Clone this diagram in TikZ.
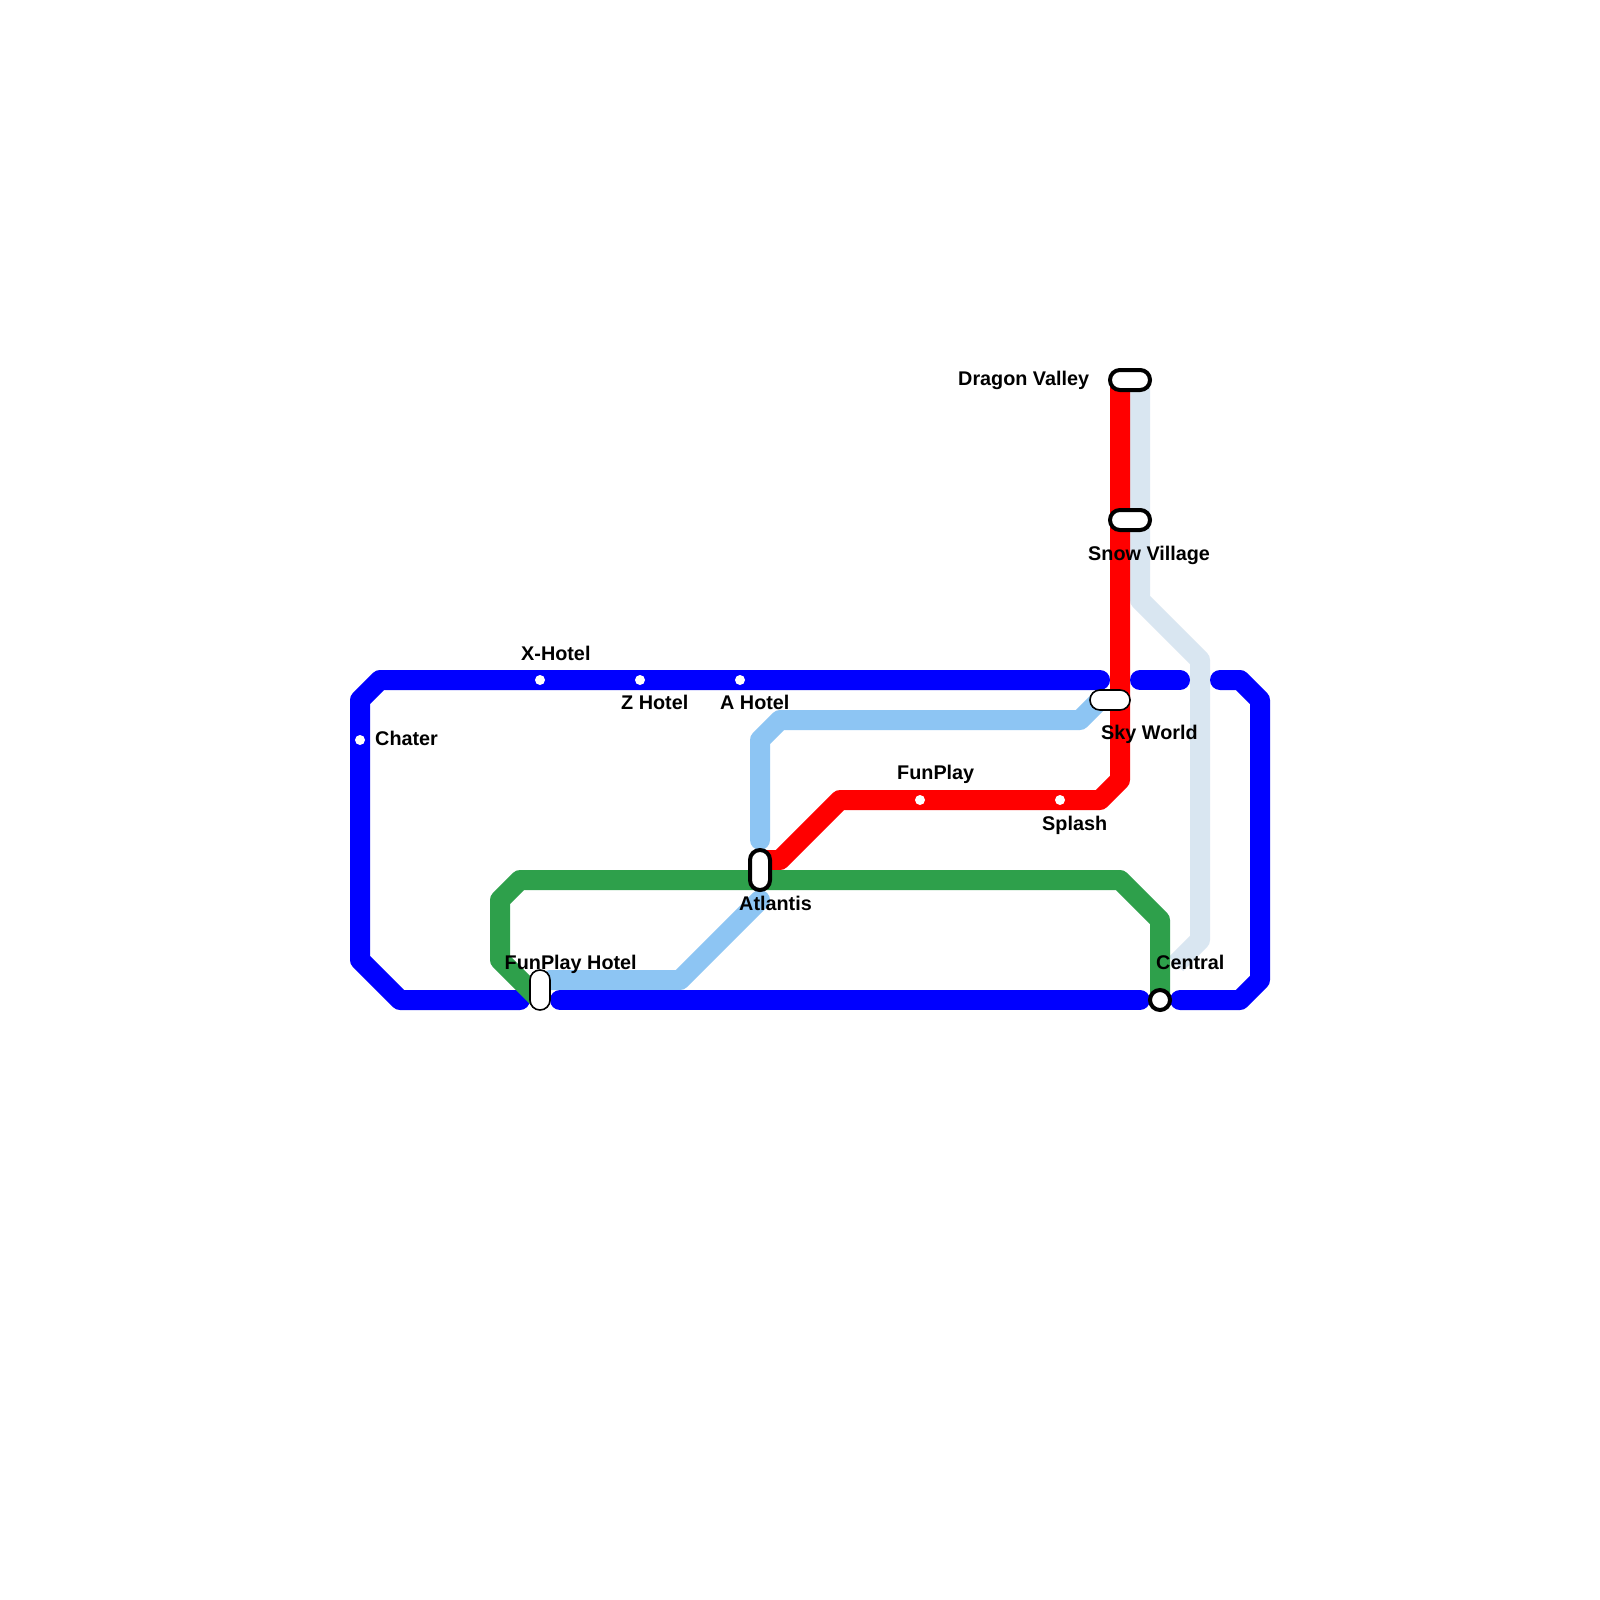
\documentclass[tikz,border=0pt]{standalone}
\usepackage{fontspec}
\setmainfont{Liberation Sans}
\definecolor{lblue}{HTML}{0000FF}
\definecolor{lred}{HTML}{FF0000}
\definecolor{lgreen}{HTML}{2EA04B}
\definecolor{lsky}{HTML}{8DC5F3}
\definecolor{lpale}{HTML}{D9E6F1}
\tikzset{
  metro/.style={line width=20pt,line join=round,line cap=round},
  metrob/.style={line width=20pt,line join=round,line cap=butt},
  thickcap/.style={draw=black,fill=white,line width=4pt,rounded corners=9.9pt},
  thincap/.style={draw=black,fill=white,line width=1.6pt,rounded corners=9.9pt},
  halt/.style={circle,fill=white,inner sep=0pt,minimum size=10pt},
  lab/.style={font=\fontsize{19.8}{22}\selectfont\bfseries,inner sep=0pt,text=black,anchor=base west}
}
\begin{document}
\begin{tikzpicture}[x=1pt,y=-1pt]
\useasboundingbox[fill=white] (0,0) rectangle (1600,1600);
% pale line
\draw[metrob,lpale] (1140,380) -- (1140,600) -- (1200,660) -- (1200,940) -- (1176,964);
% sky line
\draw[metro,lsky] (1100,700) -- (1080,720) -- (780,720) -- (760,740) -- (760,840);
\draw[metro,lsky] (760,900) -- (680,980) -- (550,980);
% red
\draw[metrob,lred] (1120,380) -- (1120,780) -- (1100,800) -- (840,800) -- (780,860) -- (760,860);
% blue
\draw[metro,lblue] (1100,680) -- (380,680) -- (360,700) -- (360,960) -- (400,1000) -- (520,1000);
\draw[metro,lblue] (560,1000) -- (1140,1000);
\draw[metro,lblue] (1140,680) -- (1180,680);
\draw[metro,lblue] (1220,680) -- (1240,680) -- (1260,700) -- (1260,980) -- (1240,1000) -- (1180,1000);
% green
\draw[metrob,lgreen] (540,1000) -- (500,960) -- (500,900) -- (520,880) -- (1120,880) -- (1160,920) -- (1160,1000);
% stations
\node[halt] (chater) at (360,740) {};
\node[halt] (xh) at (540,680) {};
\node[halt] (zh) at (640,680) {};
\node[halt] (ah) at (740,680) {};
\node[halt] (fp) at (920,800) {};
\node[halt] (sp) at (1060,800) {};
\draw[thickcap] (1110,370) rectangle (1150,390);
\draw[thickcap] (1110,510) rectangle (1150,530);
\draw[thincap] (1090,690) rectangle (1130,710);
\draw[thickcap] (750,850) rectangle (770,890);
\draw[thincap] (530,970) rectangle (550,1010);
\draw[draw=black,fill=white,line width=4pt] (1160,1000) circle (10);
% labels
\node[lab] at (375,745) {Chater};
\node[lab] at (521,660) {X-Hotel};
\node[lab] at (621,709.5) {Z Hotel};
\node[lab] at (720,709.5) {A Hotel};
\node[lab] at (897,779.5) {FunPlay};
\node[lab] at (1042,830) {Splash};
\node[lab] at (958,385) {Dragon Valley};
\node[lab] at (1088,560) {Snow Village};
\node[lab] at (1101,739.5) {Sky World};
\node[lab] at (739,910) {Atlantis};
\node[lab] at (504.5,969.5) {FunPlay Hotel};
\node[lab] at (1156,969.5) {Central};
\end{tikzpicture}
\end{document}
